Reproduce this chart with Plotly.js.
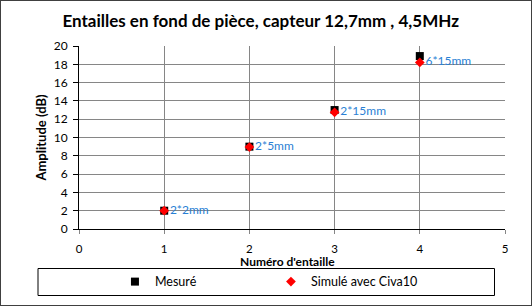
<!DOCTYPE html>
<html><head><meta charset="utf-8">
<script src="https://cdn.plot.ly/plotly-3.0.1.min.js"></script>
<style>
html,body{margin:0;padding:0;background:#fff;}
#chart{width:530px;height:304px;border:1px solid #404040;}
</style></head>
<body><div id="chart"></div>
<script>
const entailles = [1, 2, 3, 4];
const mesure = [2.0, 9.0, 13.0, 18.9];
const simule = [2.0, 8.95, 12.75, 18.2];
const etiquettes = ['2*2mm', '2*5mm', '2*15mm', '6*15mm'];
const xTicks = [0, 1, 2, 3, 4, 5];
const yTicks = [0, 2, 4, 6, 8, 10, 12, 14, 16, 18, 20];

const font = 'Lato, "Open Sans", sans-serif';

const traces = [
  {x: entailles, y: mesure, type: 'scatter', mode: 'markers', name: 'Mesuré',
   marker: {symbol: 'square', size: 8, color: '#000000', line: {width: 0}}},
  {x: entailles, y: simule, type: 'scatter', mode: 'markers+text', name: 'Simulé avec Civa10',
   marker: {symbol: 'diamond', size: 7.5, color: '#ff0000', line: {width: 0}},
   text: etiquettes, textposition: 'middle right',
   textfont: {family: font, size: 12, color: '#2a7fd4'}}
];

const layout = {
  width: 530, height: 304,
  margin: {l: 78, r: 26, t: 45, b: 76},
  paper_bgcolor: '#ffffff', plot_bgcolor: '#ffffff',
  font: {family: font, size: 12, color: '#000'},
  title: {text: '<b>Entailles en fond de pièce, capteur 12,7mm , 4,5MHz</b>',
          font: {family: font, size: 17, color: '#000'}, x: 0.49, xanchor: 'center', y: 0.935, yanchor: 'middle'},
  xaxis: {range: [0, 5], tickvals: xTicks, ticktext: xTicks.map(String),
          showgrid: true, gridcolor: '#868686', gridwidth: 1, zeroline: false,
          showline: true, linecolor: '#000', linewidth: 1, automargin: false,
          ticks: 'outside', ticklen: 4, tickcolor: '#868686', ticklabelstandoff: 5,
          tickfont: {family: font, size: 11.5}},
  yaxis: {range: [0, 20], tickvals: yTicks, ticktext: yTicks.map(String),
          showgrid: true, gridcolor: '#868686', gridwidth: 1, zeroline: false,
          showline: true, linecolor: '#000', linewidth: 1, automargin: false,
          ticks: 'outside', ticklen: 5, tickcolor: '#000', ticklabelstandoff: 3,
          tickfont: {family: font, size: 12},
          title: {text: '<b>Amplitude (dB)</b>', font: {family: font, size: 13}, standoff: 4}},
  annotations: [
    {text: '<b>Numéro d\'entaille</b>', xref: 'paper', yref: 'paper',
     x: (287 - 79) / 426, y: (229 - 261.5) / 183, xanchor: 'center', yanchor: 'middle',
     showarrow: false, borderpad: 0, font: {family: font, size: 12, color: '#000'}}
  ],
  showlegend: true,
  legend: {orientation: 'h', xref: 'container', yref: 'container',
           x: 0.215, xanchor: 'left', y: 0.0757, yanchor: 'middle',
           bgcolor: 'rgba(0,0,0,0)', borderwidth: 0,
           entrywidth: 111, entrywidthmode: 'pixels',
           font: {family: font, size: 12.5, color: '#000'}},
  shapes: [
    {type: 'rect', xref: 'paper', yref: 'paper',
     x0: (38 - 79) / 426, x1: (494.5 - 79) / 426,
     y0: (229 - 295.5) / 183, y1: (229 - 268.5) / 183,
     line: {color: '#000', width: 1}, fillcolor: 'rgba(0,0,0,0)'}
  ]
};

Plotly.newPlot('chart', traces, layout, {displayModeBar: false, staticPlot: true});
</script></body></html>
